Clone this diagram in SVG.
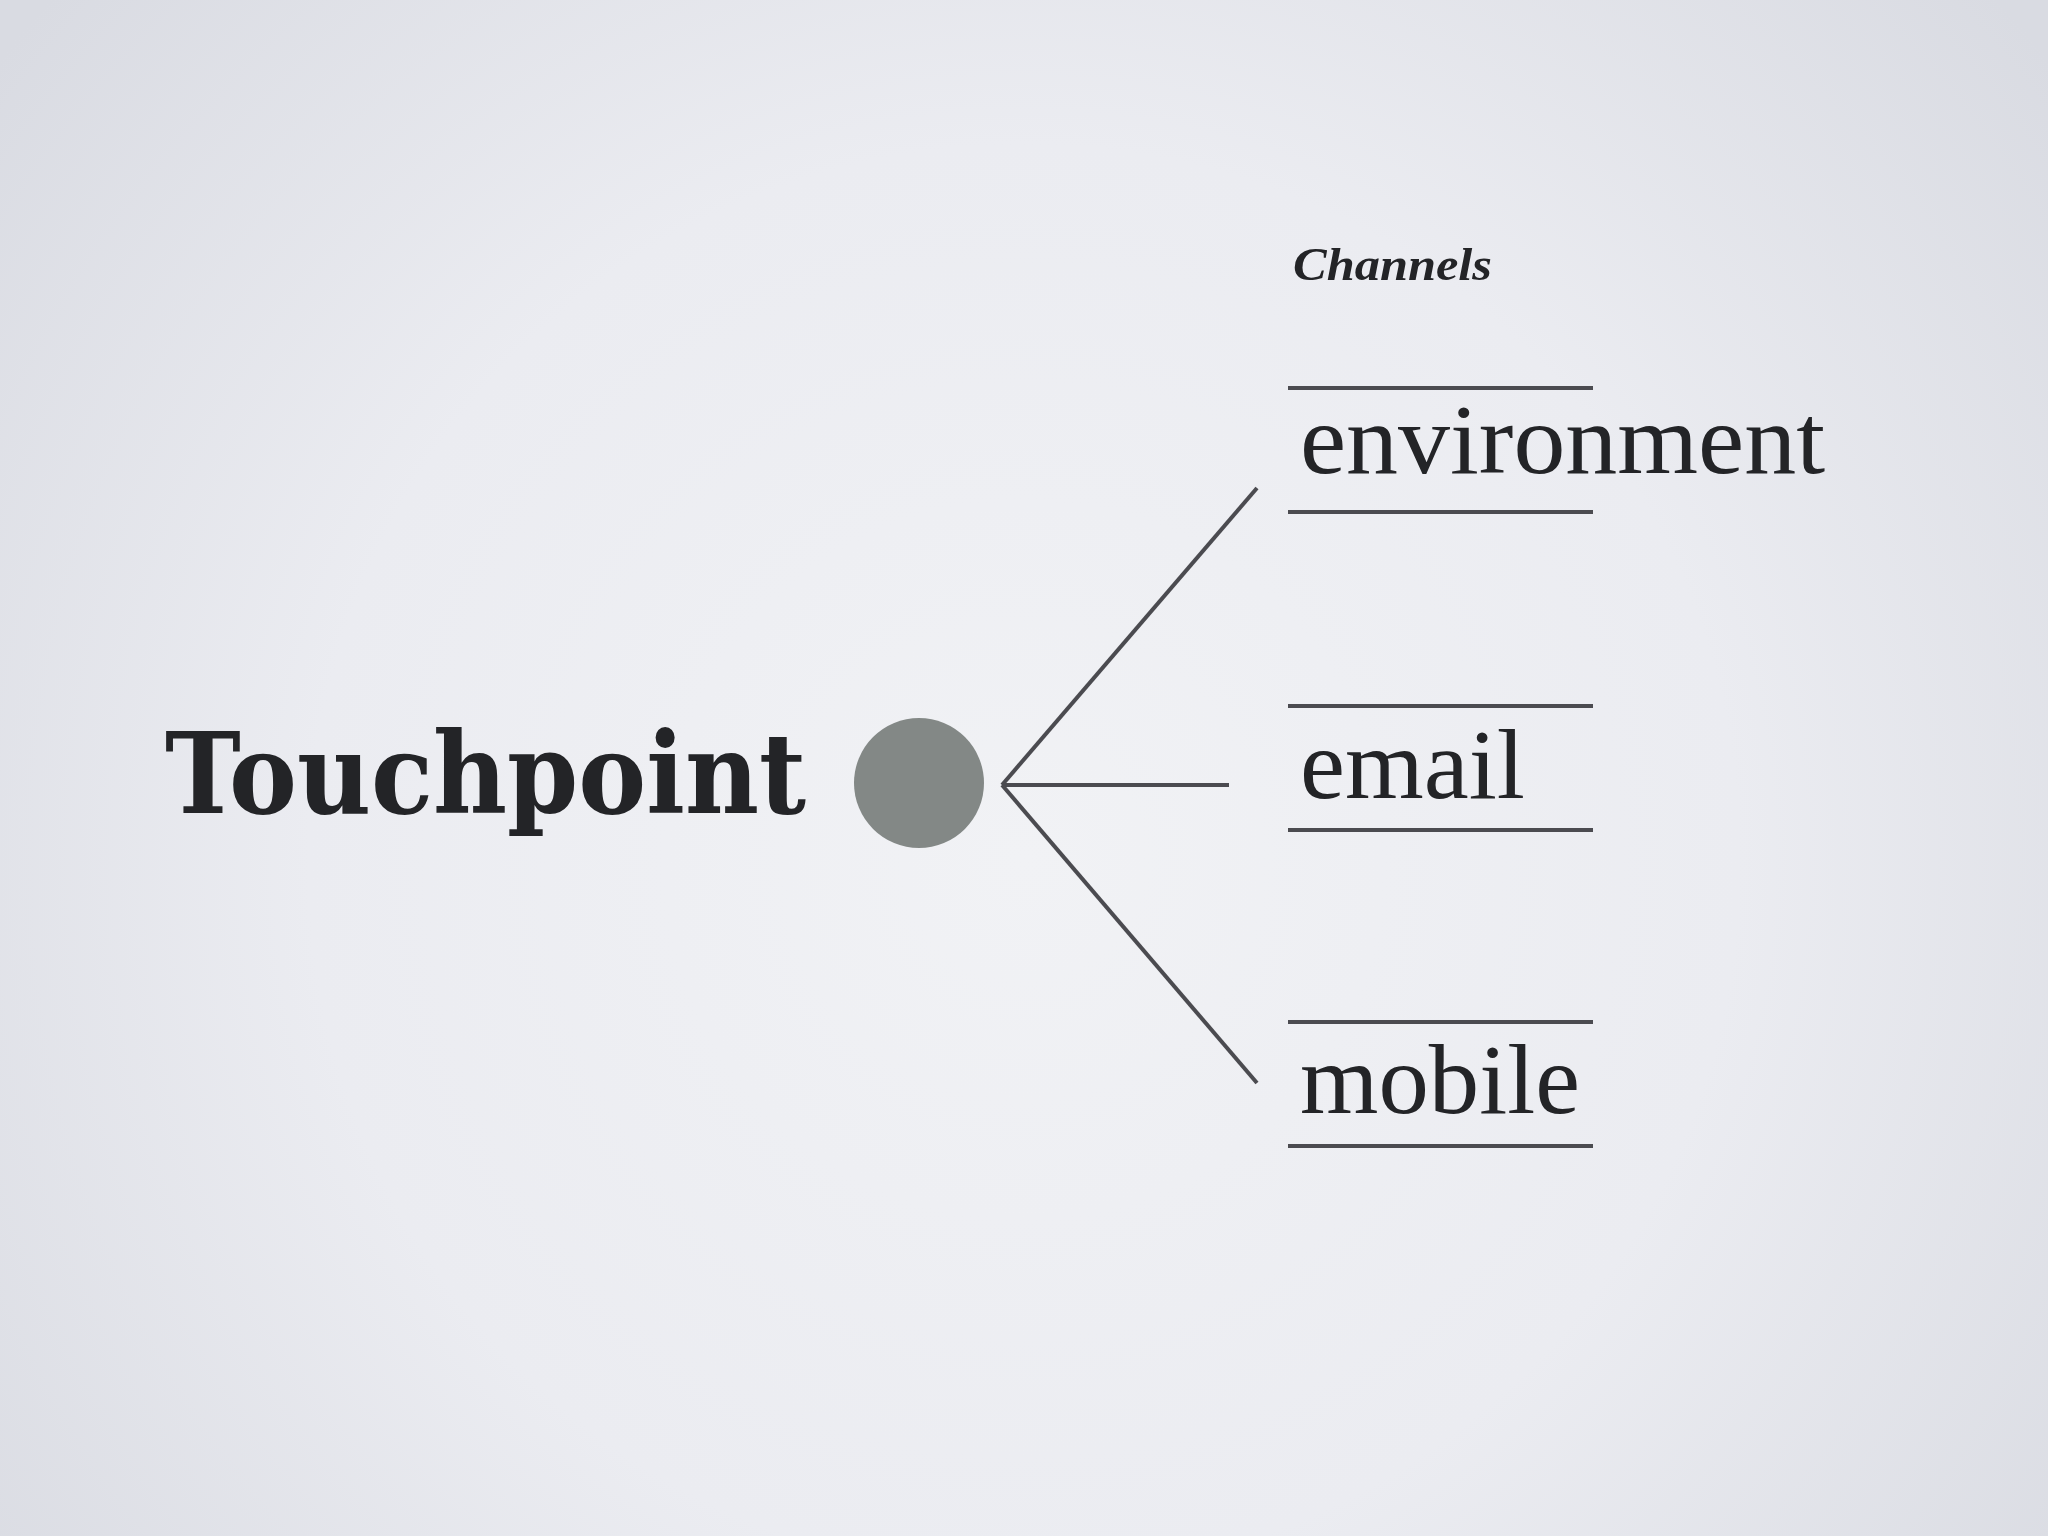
<svg xmlns="http://www.w3.org/2000/svg" width="2048" height="1536" viewBox="0 0 2048 1536">
  <defs>
    <radialGradient id="bg" cx="1024" cy="860" r="1300" gradientUnits="userSpaceOnUse">
      <stop offset="0" stop-color="#f1f2f5"/>
      <stop offset="0.55" stop-color="#ebecf1"/>
      <stop offset="1" stop-color="#d9dbe2"/>
    </radialGradient>
    <style>
      .rule { stroke: #4b4b50; stroke-width: 4; fill: none; }
      .conn { stroke: #4b4b50; stroke-width: 4; fill: none; stroke-linecap: butt; }
      .label { font-family: "Liberation Serif", "DejaVu Serif", serif; font-size: 100px; fill: #232427; }
      .title { font-family: "DejaVu Serif", "Liberation Serif", serif; font-weight: bold; font-size: 113px; fill: #232427; }
      .head { font-family: "Liberation Serif", "DejaVu Serif", serif; font-weight: bold; font-style: italic; font-size: 46px; fill: #232427; }
    </style>
  </defs>
  <rect x="0" y="0" width="2048" height="1536" fill="url(#bg)"/>

  <g id="touchpoint">
    <text class="title" x="165" y="813" textLength="641" lengthAdjust="spacingAndGlyphs">Touchpoint</text>
    <circle cx="919" cy="783" r="65" fill="#838886"/>
  </g>

  <g id="connectors">
    <line class="conn" x1="1002" y1="785" x2="1257" y2="488"/>
    <line class="conn" x1="1002" y1="785" x2="1229" y2="785"/>
    <line class="conn" x1="1002" y1="785" x2="1257" y2="1083"/>
  </g>

  <g id="channels-heading">
    <text class="head" x="1293" y="280" textLength="199" lengthAdjust="spacingAndGlyphs">Channels</text>
  </g>

  <g id="environment">
    <line class="rule" x1="1288" y1="388" x2="1593" y2="388"/>
    <text class="label" x="1300" y="473" textLength="525" lengthAdjust="spacingAndGlyphs">environment</text>
    <line class="rule" x1="1288" y1="512" x2="1593" y2="512"/>
  </g>

  <g id="email">
    <line class="rule" x1="1288" y1="706" x2="1593" y2="706"/>
    <text class="label" x="1300" y="798" textLength="225" lengthAdjust="spacingAndGlyphs">email</text>
    <line class="rule" x1="1288" y1="830" x2="1593" y2="830"/>
  </g>

  <g id="mobile">
    <line class="rule" x1="1288" y1="1022" x2="1593" y2="1022"/>
    <text class="label" x="1300" y="1113" textLength="280" lengthAdjust="spacingAndGlyphs">mobile</text>
    <line class="rule" x1="1288" y1="1146" x2="1593" y2="1146"/>
  </g>
</svg>
